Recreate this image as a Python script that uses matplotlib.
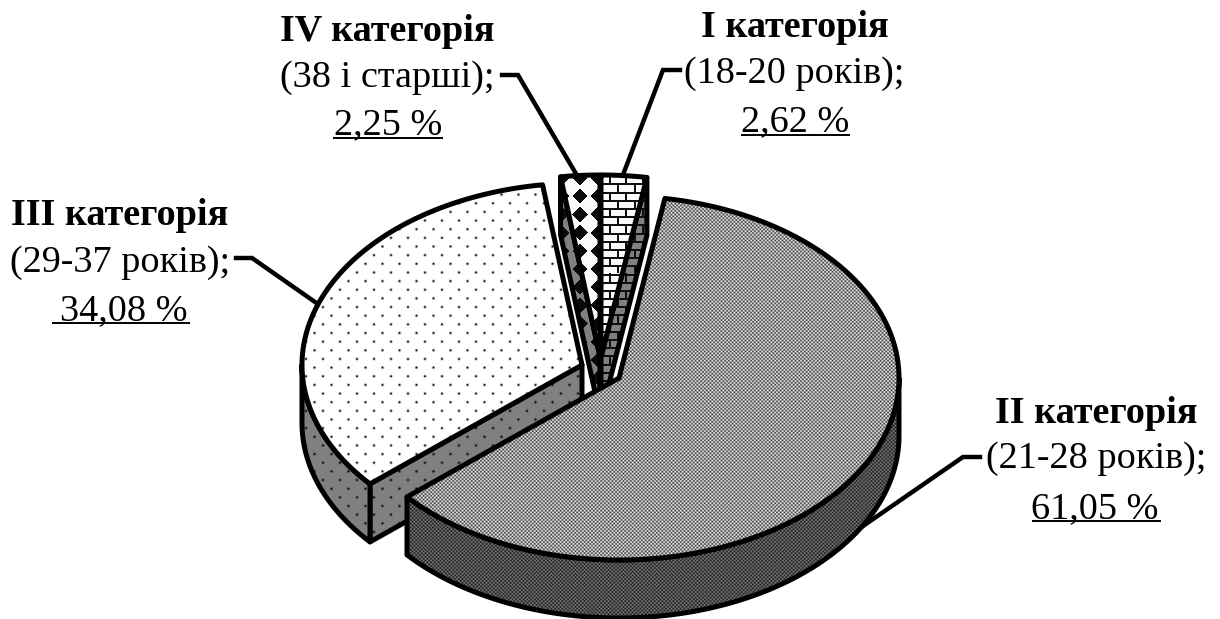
import numpy as np
import matplotlib
matplotlib.use("Agg")
import matplotlib.pyplot as plt
from matplotlib.patches import Polygon

# shares of the pie, clockwise from 12 o'clock
shares = [2.62, 61.05, 34.08, 2.25]
titles = ["I категорія", "II категорія", "III категорія", "IV категорія"]
ages = ["(18-20 років);", "(21-28 років);", "(29-37 років);", "(38 і старші);"]
percent_labels = ["2,62 %", "61,05 %", "34,08 %", "2,25 %"]

W, H = 1220, 619
RX, RY, DEPTH = 280, 182, 58
LW = 3.6

# exploded apex of every slice, canvas pixels
apex = [(601, 357), (619, 378), (582, 365), (600, 357)]

# text: centre x (title/age, percent) and the three baselines
text_x = [794.5, 1096, 120, 387]
percent_x = [795, 1095, 123.5, 388]
text_y = [(37, 83, 131), (423, 468, 518), (225, 272, 320), (41, 87, 134)]
underlines = [(741, 850, 135), (1032, 1161, 521), (52, 190, 323), (333, 443, 138)]
leaders = [
    [(680, 70), (663, 70), (621, 180)],
    [(980, 457), (963, 457), (850, 535)],
    [(236, 258), (252, 258), (325, 309)],
    [(502, 75), (518, 75), (582, 184)],
]

Y, X = np.mgrid[0:H, 0:W] + 0.5


def fine_dither(mean, amp):
    return mean + amp * np.cos(2 * np.pi * X / 3.7) * np.cos(2 * np.pi * Y / 3.7)


def dots(base):
    row = np.floor(Y / 8.65)
    xx = (X + row * 8.5) % 17 - 8.5
    yy = Y % 8.65 - 4.3
    d = xx ** 2 + yy ** 2
    return base * (1 - np.exp(-d / 1.4))


def bricks(base):
    row = np.floor((Y - 183.3) / 8.2)
    line_h = ((Y - 183.3) % 8.2) < 2.0
    line_v = ((X - 617 + row * 8.4) % 16.8) < 2.0
    out = np.full(X.shape, float(base))
    out[line_h | line_v] = 15
    return out


def diamonds(base):
    d = 18.2
    fx = (X - 580) / d
    fy = (Y - 178) / d
    l1 = np.abs(fx - np.round(fx)) + np.abs(fy - np.round(fy))
    out = np.full(X.shape, float(base))
    out[l1 < 0.42] = 10
    return out


def rim(i, a, b, dy=0, n=120):
    t = np.radians(np.linspace(a, b, n))
    cx, cy = apex[i]
    return np.column_stack([cx + RX * np.sin(t), cy - RY * np.cos(t) + dy])


fig = plt.figure(figsize=(W / 100, H / 100), dpi=100)
ax = fig.add_axes([0, 0, 1, 1])
ax.set_xlim(0, W)
ax.set_ylim(H, 0)
ax.axis("off")

z = [5]


def face(verts, pattern):
    z[0] += 1
    im = ax.imshow(pattern, cmap="gray", vmin=0, vmax=255, extent=(0, W, H, 0),
                   interpolation="nearest", aspect="auto", zorder=z[0])
    clip = Polygon(verts, closed=True, transform=ax.transData)
    im.set_clip_path(clip)
    z[0] += 1
    ax.add_patch(Polygon(verts, closed=True, fill=False, edgecolor="black", lw=LW,
                         joinstyle="round", zorder=z[0]))


def top(i, a, b, pattern):
    face(np.vstack([[apex[i]], rim(i, a, b)]), pattern)


def outer_wall(i, a, b, pattern):
    face(np.vstack([rim(i, a, b), rim(i, b, a, DEPTH)]), pattern)


def cut_wall(i, ang, pattern):
    p = rim(i, ang, ang, n=1)[0]
    c = apex[i]
    face([c, p, (p[0], p[1] + DEPTH), (c[0], c[1] + DEPTH)], pattern)


edges = np.concatenate([[0], np.cumsum(shares)]) * 360 / sum(shares)

for pts in leaders:
    xs, ys = zip(*pts)
    ax.plot(xs, ys, color="black", lw=3.2, solid_joinstyle="miter", zorder=2)

# back slices first, big ones go over them
cut_wall(3, edges[3], diamonds(128))
cut_wall(0, edges[1], bricks(128))
top(3, edges[3], edges[4], diamonds(250))
top(0, edges[0], edges[1], bricks(250))

cut_wall(2, edges[2], dots(128))
outer_wall(2, edges[2], 270, dots(128))
top(2, edges[2], edges[3], dots(255))

outer_wall(1, 90, edges[2], fine_dither(75, 50))
top(1, edges[1], edges[2], fine_dither(150, 90))

for i in range(4):
    ax.text(text_x[i], text_y[i][0], titles[i], family="Liberation Serif", fontsize=27.5,
            fontweight="bold", ha="center", va="baseline", color="black", zorder=50)
    ax.text(text_x[i], text_y[i][1], ages[i], family="Liberation Serif", fontsize=27.5,
            ha="center", va="baseline", color="black", zorder=50)
    ax.text(percent_x[i], text_y[i][2], percent_labels[i], family="Liberation Serif",
            fontsize=27.5, ha="center", va="baseline", color="black", zorder=50)
    x0, x1, uy = underlines[i]
    ax.plot([x0, x1], [uy, uy], color="black", lw=1.4, solid_capstyle="butt", zorder=50)

fig.savefig("out.png", dpi=100)
